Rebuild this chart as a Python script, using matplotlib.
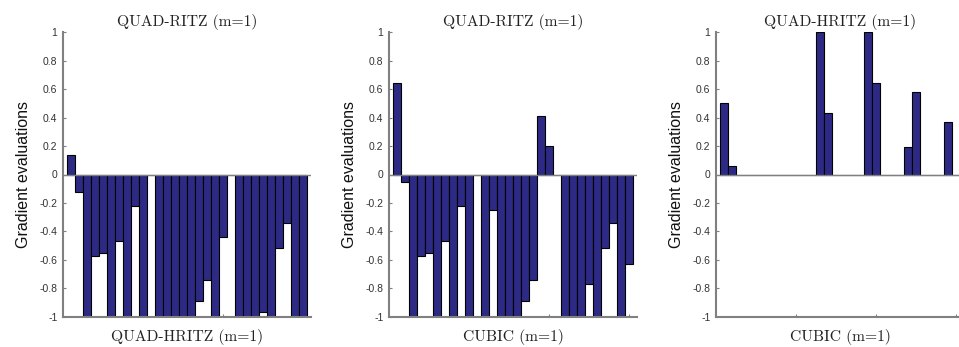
import matplotlib
matplotlib.use("Agg")
import matplotlib.pyplot as plt
import numpy as np

problems = np.arange(1, 31)

# Panel 1: QUAD-RITZ vs QUAD-HRITZ
vals_qr_vs_qhr = [0.14, -0.12, -1.0, -0.57, -0.55, -1.0, -0.47, -1.0, -0.22, -1.0,
                  0.0, -1.0, -1.0, -1.0, -1.0, -1.0, -0.89, -0.74, -1.0, -0.44,
                  0.0, -1.0, -1.0, -1.0, -0.97, -1.0, -0.52, -0.34, -1.0, -1.0]
# Panel 2: QUAD-RITZ vs CUBIC
vals_qr_vs_cubic = [0.64, -0.05, -1.0, -0.57, -0.55, -1.0, -0.47, -1.0, -0.22, -1.0,
                    0.0, -1.0, -0.25, -1.0, -1.0, -1.0, -0.89, -0.74, 0.41, 0.20,
                    0.0, -1.0, -1.0, -1.0, -0.77, -1.0, -0.52, -0.34, -1.0, -0.63]
# Panel 3: QUAD-HRITZ vs CUBIC
vals_qhr_vs_cubic = [0.50, 0.06, 0.0, 0.0, 0.0, 0.0, 0.0, 0.0, 0.0, 0.0,
                     0.0, 0.0, 1.0, 0.43, 0.0, 0.0, 0.0, 0.0, 1.0, 0.64,
                     0.0, 0.0, 0.0, 0.19, 0.58, 0.0, 0.0, 0.0, 0.37, 0.0]

titles = ["QUAD-RITZ (m=1)", "QUAD-RITZ (m=1)", "QUAD-HRITZ (m=1)"]
xlabels = ["QUAD-HRITZ (m=1)", "CUBIC (m=1)", "CUBIC (m=1)"]
ylabel = "Gradient evaluations"
yticks = [-1, -0.8, -0.6, -0.4, -0.2, 0, 0.2, 0.4, 0.6, 0.8, 1]
ytick_labels = ["-1", "-0.8", "-0.6", "-0.4", "-0.2", "0", "0.2", "0.4", "0.6", "0.8", "1"]
xticks = [10, 20, 30]

W, H = 959, 347
fig = plt.figure(figsize=(W / 100, H / 100), dpi=100)

lefts = [63, 389, 716]
ax_w = 248
ax_bottom = 347 - 316.7
ax_h = 316.7 - 32.3

bar_color = "#2d2a85"
gray = "#808080"
data = [vals_qr_vs_qhr, vals_qr_vs_cubic, vals_qhr_vs_cubic]
serif = ["cmr10", "DejaVu Serif"]

for i in range(3):
    ax = fig.add_axes([lefts[i] / W, ax_bottom / H, ax_w / W, ax_h / H])
    ax.bar(problems, data[i], width=0.9, color=bar_color, edgecolor="black",
           linewidth=0.8, zorder=2)
    ax.axhline(0, color=gray, lw=1.0, zorder=3)
    ax.set_xlim(0, 31)
    ax.set_ylim(-1, 1)
    ax.set_yticks(yticks)
    ax.set_yticklabels(ytick_labels)
    ax.set_xticks(xticks)
    ax.set_xticklabels([])
    for s in ["top", "right"]:
        ax.spines[s].set_visible(False)
    for s in ["left", "bottom"]:
        ax.spines[s].set_color(gray)
        ax.spines[s].set_linewidth(1.5)
        ax.spines[s].set_zorder(4)
    ax.tick_params(axis="both", direction="in", length=2.5, width=0.8,
                   color=gray, labelsize=7.5, labelcolor="#333333", pad=4)
    ax.tick_params(axis="y", labelfontfamily="Liberation Sans")
    ax.set_title(titles[i], fontfamily=serif, fontsize=11.2, pad=4.5,
                 color="#222222")
    ax.set_xlabel(xlabels[i], fontfamily=serif, fontsize=11.2,
                  labelpad=5, color="#222222")
    ax.set_ylabel(ylabel, fontfamily="Liberation Sans", fontsize=11.5,
                  labelpad=6, color="#111111")

fig.savefig("out.png", dpi=100)
